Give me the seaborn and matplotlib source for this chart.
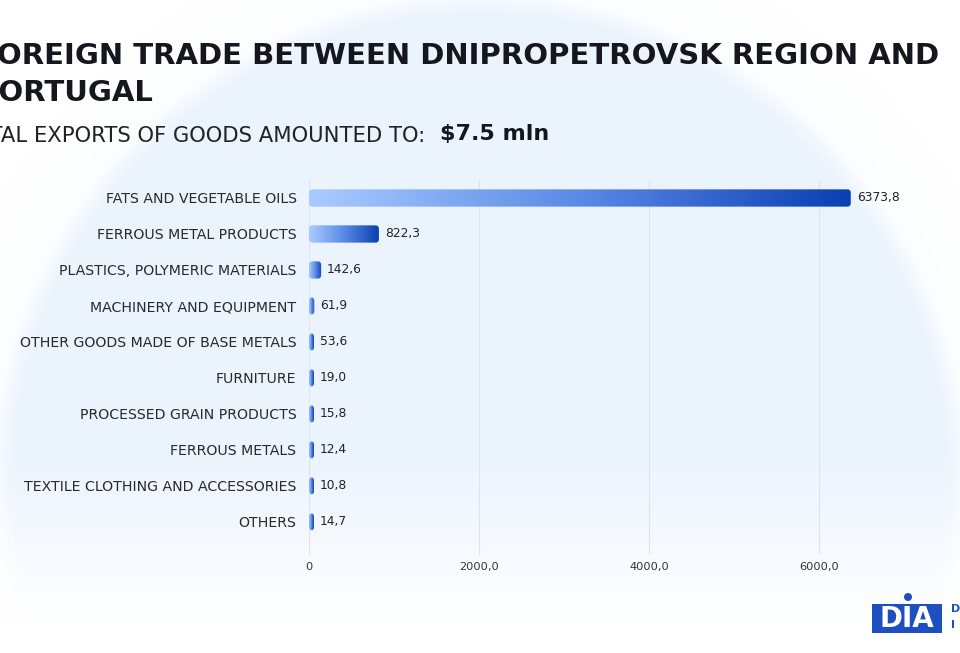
import matplotlib
matplotlib.use('Agg')
import matplotlib.pyplot as plt
import seaborn as sns
import pandas as pd
import numpy as np
from matplotlib.patches import FancyBboxPatch, Rectangle, Circle
from matplotlib.colors import LinearSegmentedColormap
from matplotlib.ticker import FuncFormatter

categories = [
    "FATS AND VEGETABLE OILS",
    "FERROUS METAL PRODUCTS",
    "PLASTICS, POLYMERIC MATERIALS",
    "MACHINERY AND EQUIPMENT",
    "OTHER GOODS MADE OF BASE METALS",
    "FURNITURE",
    "PROCESSED GRAIN PRODUCTS",
    "FERROUS METALS",
    "TEXTILE CLOTHING AND ACCESSORIES",
    "OTHERS",
]
values = [6373.8, 822.3, 142.6, 61.9, 53.6, 19.0, 15.8, 12.4, 10.8, 14.7]
x_ticks = [0, 2000, 4000, 6000]

title_text = "FOREIGN TRADE BETWEEN DNIPROPETROVSK REGION AND\nPORTUGAL"
subtitle_text = "TOTAL EXPORTS OF GOODS AMOUNTED TO:"
total_text = "$7.5 mln"

df = pd.DataFrame({"category": categories, "value": values})

W, H, DPI = 960, 653, 100
sns.set_theme(style="white")
plt.rcParams['font.family'] = ['DejaVu Sans']

fig = plt.figure(figsize=(W / DPI, H / DPI), dpi=DPI)
fig.patch.set_facecolor('white')

# soft background circle
bg = fig.add_axes([0, 0, 1, 1], zorder=-10)
bg.set_axis_off()
yy, xx = np.mgrid[0:H, 0:W]
dist = np.sqrt((xx - 480) ** 2 + (yy - 480) ** 2)
circ = np.clip((480 - dist) / 25 + 0.5, 0, 1)
halo = np.clip((560 - dist) / 200, 0, 1) * 0.35
fade = np.clip((625 - yy) / 170, 0, 1)
alpha = np.maximum(circ, halo) * fade
tint = np.array([0.925, 0.957, 0.995])
img = np.ones((H, W, 3)) * (1 - alpha[..., None]) + tint * alpha[..., None]
bg.imshow(img, extent=[0, W, H, 0], aspect='auto')
bg.set_xlim(0, W)
bg.set_ylim(H, 0)

ax = fig.add_axes([309 / W, 1 - 555 / H, 595 / W, 375 / H])
ax.patch.set_alpha(0)
sns.barplot(data=df, x="value", y="category", orient="h", width=0.48,
            color="#3b6fd6", ax=ax)
ax.set_xlim(0, 7000)
ax.set_ylim(9.92, -0.5)
ax.set_xticks(x_ticks)
ax.xaxis.set_major_formatter(FuncFormatter(
    lambda v, p: "0" if v == 0 else f"{v:.1f}".replace('.', ',')))
ax.tick_params(axis='x', length=0, pad=5, labelsize=8.2, labelcolor='#333333')
ax.tick_params(axis='y', length=0, pad=9, labelsize=10.2, labelcolor='#2a2a2a')
ax.set_xlabel("")
ax.set_ylabel("")
for s in ax.spines.values():
    s.set_visible(False)
ax.grid(axis='x', color='#dde4ee', linewidth=0.8)
ax.set_axisbelow(True)

cmap = LinearSegmentedColormap.from_list("bar", ["#a9cbff", "#5a8ae6", "#0a3fb3"])
grad = np.linspace(0, 1, 256).reshape(1, -1)

fig.canvas.draw()
patches = list(ax.patches)
for p, v in zip(patches, values):
    x0, y0 = p.get_x(), p.get_y()
    w, h = p.get_width(), p.get_height()
    p.remove()
    (px0, py0) = ax.transData.transform((x0, y0 + h))
    (px1, py1) = ax.transData.transform((x0 + w, y0))
    pw = max(px1 - px0, 5)
    ph = py1 - py0
    box = FancyBboxPatch((px0, py0), pw, ph,
                         boxstyle="round,pad=0,rounding_size=3.5",
                         transform=None, facecolor='none', edgecolor='none')
    ax.add_artist(box)
    xe = ax.transData.inverted().transform((px0 + pw, py0))[0]
    im = ax.imshow(grad, cmap=cmap, extent=[x0, xe, y0 + h, y0],
                   aspect='auto', zorder=3, interpolation='bicubic')
    im.set_clip_path(box)
    ax.text(xe + 70, y0 + h / 2, f"{v:.1f}".replace('.', ','),
            va='center', ha='left', fontsize=8.8, color='#222222', zorder=4)
ax.set_xlim(0, 7000)
ax.set_ylim(9.92, -0.5)

fig.text(-23 / W, 1 - 42 / H, title_text, fontsize=21, fontweight='bold',
         color='#16161e', va='top', ha='left', linespacing=1.42)
fig.text(-40 / W, 1 - 136 / H, subtitle_text, fontsize=15.2, color='#222222',
         va='center', ha='left')
fig.text(440 / W, 1 - 134 / H, total_text, fontsize=16, fontweight='bold',
         color='#16161e', va='center', ha='left')

# logo
fig.patches.append(Rectangle((872 / W, 1 - 633 / H), 70 / W, 29 / H,
                             transform=fig.transFigure, facecolor='#1d4fc0',
                             edgecolor='none'))
fig.patches.append(Circle((908, H - 597), 4, transform=None,
                          facecolor='#1d4fc0', edgecolor='none'))
fig.text(907 / W, 1 - 619 / H, "DIA", fontsize=20, fontweight='bold',
         color='white', ha='center', va='center')
fig.text(951 / W, 1 - 609 / H, "D", fontsize=8, fontweight='bold',
         color='#1d4fc0', ha='left', va='center')
fig.text(951 / W, 1 - 625 / H, "I", fontsize=8, fontweight='bold',
         color='#1d4fc0', ha='left', va='center')

fig.savefig("out.png", dpi=DPI)
